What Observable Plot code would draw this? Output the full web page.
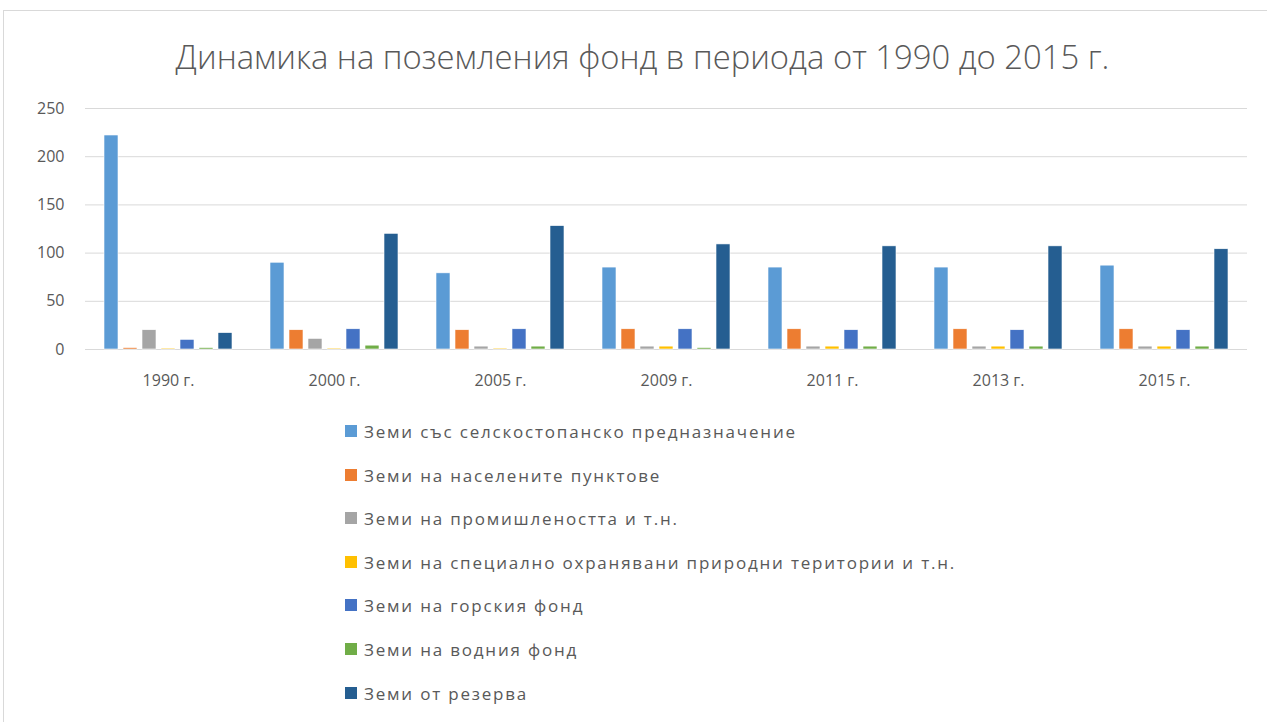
<!DOCTYPE html>
<html><head><meta charset="utf-8">
<script src="https://cdn.jsdelivr.net/npm/d3@7"></script>
<script src="https://cdn.jsdelivr.net/npm/@observablehq/plot@0.6"></script>
<style>
body{margin:0;background:#fff;font-family:"Open Sans",sans-serif;}
#frame{position:absolute;left:3px;top:10px;width:1270px;height:720px;border:1px solid #d9d9d9;box-sizing:border-box;}
#title{position:absolute;left:0;top:34px;width:1285px;text-align:center;font-size:32.8px;font-weight:300;color:#595959;}
#chart{position:absolute;left:0;top:90px;}
#legend{position:absolute;left:345px;top:420px;}
.row{height:43.6px;display:flex;align-items:flex-start;font-size:17px;letter-spacing:1.8px;color:#595959;}
.sw{width:12px;height:12px;margin-top:5px;margin-right:7px;}
</style></head><body>
<div id="frame"></div>
<div id="title">Динамика на поземления фонд в периода от 1990 до 2015 г.</div>
<div id="chart"></div>
<div id="legend"></div>
<script>
const years = ["1990 г.","2000 г.","2005 г.","2009 г.","2011 г.","2013 г.","2015 г."];
const seriesNames = [
  "Земи със селскостопанско предназначение",
  "Земи на населените пунктове",
  "Земи на промишлеността и т.н.",
  "Земи на специално охранявани природни територии и т.н.",
  "Земи на горския фонд",
  "Земи на водния фонд",
  "Земи от резерва"
];
const colors = ["#5B9BD5","#ED7D31","#A5A5A5","#FFC000","#4472C4","#70AD47","#255E91"];
const agri      = [222, 90, 79, 85, 85, 85, 87];
const settle    = [1.5, 20, 20, 21, 21, 21, 21];
const industry  = [20, 11, 3, 3, 3, 3, 3];
const protectedA= [1, 1, 1, 3, 3, 3, 3];
const forest    = [10, 21, 21, 21, 20, 20, 20];
const water     = [1.5, 4, 3, 1.5, 3, 3, 3];
const reserve   = [17, 120, 128, 109, 107, 107, 104];
const yTicks = [0,50,100,150,200,250];

const seriesValues = [agri, settle, industry, protectedA, forest, water, reserve];
const data = [];
years.forEach((y,i)=>seriesNames.forEach((s,j)=>data.push({year:y, series:s, value:seriesValues[j][i]})));

const chart = Plot.plot({
  width: 1267, height: 310,
  marginTop: 18, marginBottom: 51, marginLeft: 82, marginRight: 17,
  style: {fontFamily: "Open Sans, sans-serif", fontSize: "16px", color: "#595959"},
  fx: {domain: years, padding: 0, label: null},
  x: {domain: seriesNames, paddingInner: 0.244, paddingOuter: 0.827, axis: null},
  y: {domain: [0,250], ticks: yTicks, label: null},
  color: {domain: seriesNames, range: colors},
  marks: [
    Plot.gridY(yTicks, {stroke: "#d9d9d9", strokeOpacity: 1}),
    Plot.axisY(yTicks, {tickSize: 0, tickPadding: 21, label: null, fill: "#595959", fontSize: 16, letterSpacing: 0.5}),
    Plot.axisFx({anchor: "bottom", tickSize: 0, tickPadding: 25, label: null, fill: "#595959", fontSize: 16, letterSpacing: 0.5}),
    Plot.barY(data, {fx: "year", x: "series", y: "value", fill: "series", stroke: "#ffffff", strokeWidth: 0.6})
  ]
});
document.getElementById("chart").appendChild(chart);

const leg = document.getElementById("legend");
seriesNames.forEach((s,j)=>{
  const r = document.createElement("div"); r.className="row";
  const sw = document.createElement("div"); sw.className="sw"; sw.style.background=colors[j];
  const t = document.createElement("span"); t.textContent = s;
  r.appendChild(sw); r.appendChild(t); leg.appendChild(r);
});
</script>
</body></html>
